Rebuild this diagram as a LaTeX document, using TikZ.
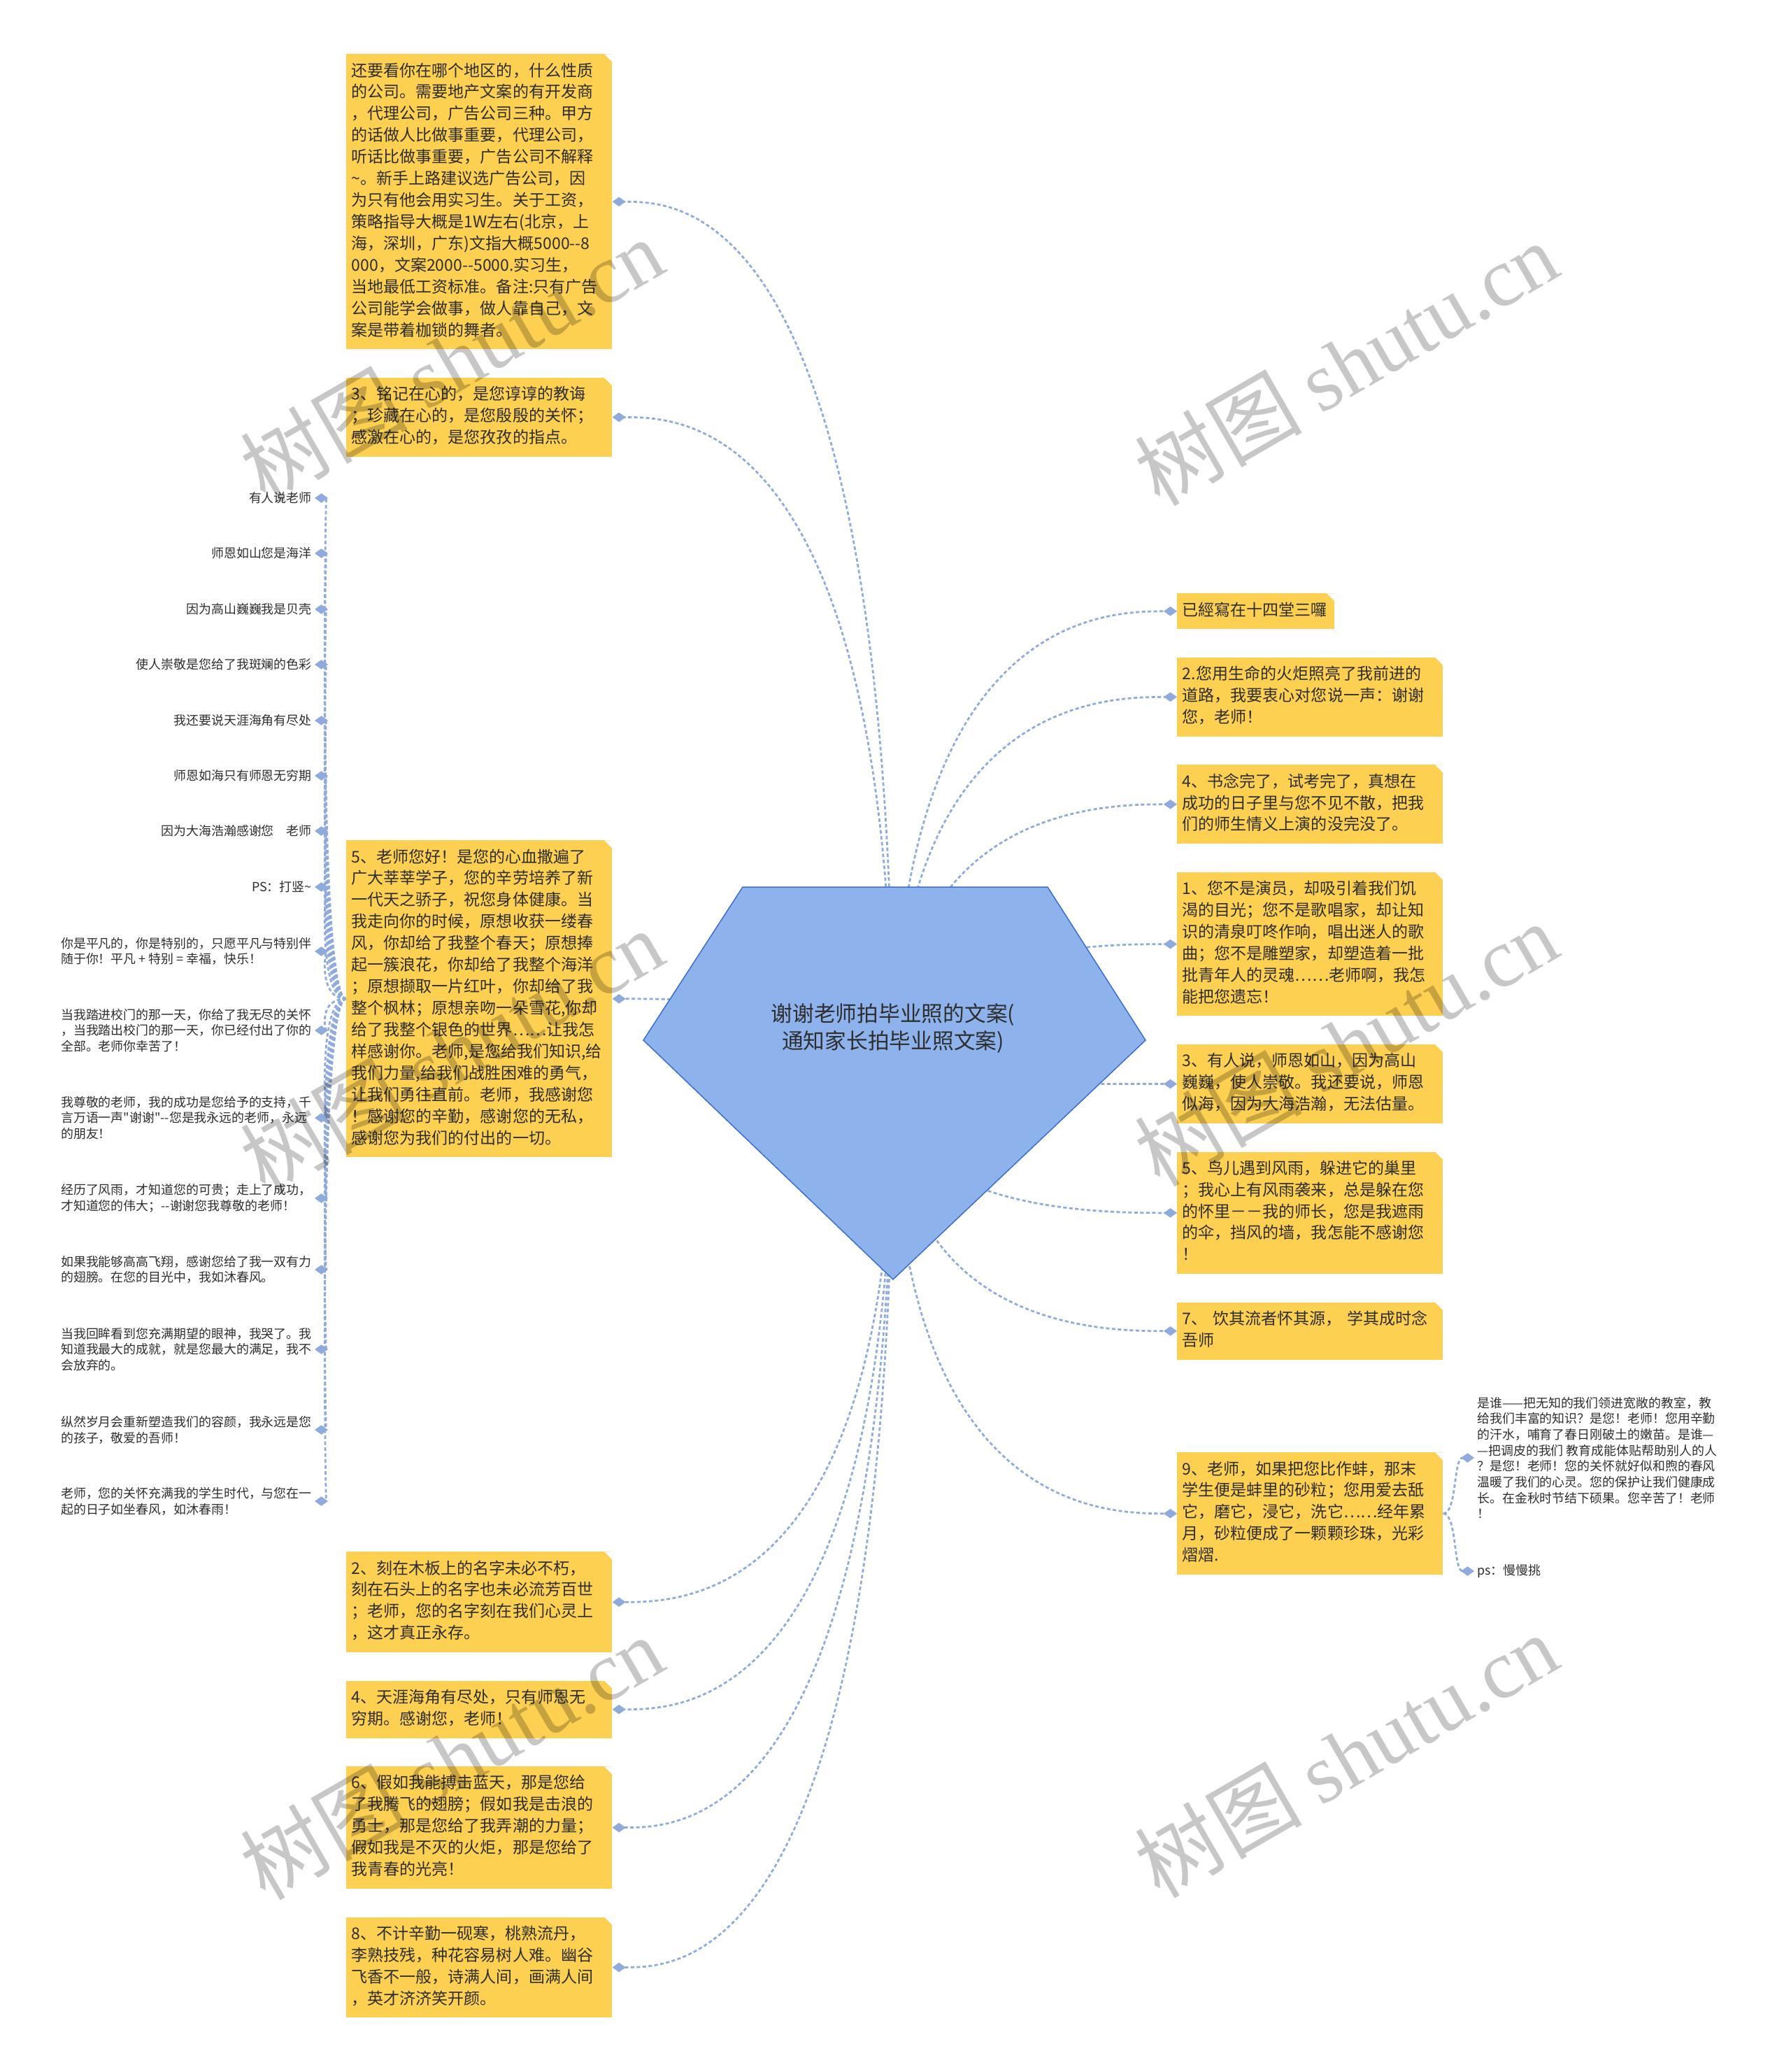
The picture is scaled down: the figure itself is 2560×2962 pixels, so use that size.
\documentclass[tikz,border=0pt]{standalone}
\usepackage{fontspec}
\usepackage{tikz}
\usetikzlibrary{arrows.meta, positioning, backgrounds}
\newfontfamily\cjk{Noto Sans CJK SC}
\newfontfamily\wmfont{Liberation Serif}
\definecolor{ShutuYellow}{HTML}{FDD052}
\definecolor{ShutuBlue}{HTML}{8EB2EB}
\definecolor{ShutuEdge}{HTML}{3B6FCF}
\definecolor{ShutuLink}{HTML}{8FAADC}
\definecolor{ShutuInk}{HTML}{2E2E2E}
\tikzset{
    % Yellow topic box with folded corner
    topic/.style={
        rectangle,
        fill=ShutuYellow,
        text=ShutuInk,
        text width=7.3cm,
        inner xsep=0.15cm,
        inner ysep=0.2cm,
        align=left,
        font=\cjk\fontsize{13.1pt}{17.6pt}\selectfont,
        execute at begin node={\noindent\strut},
        execute at end node=\strut,
        path picture={\fill[white] ([xshift=-0.22cm]path picture bounding box.north east) -- (path picture bounding box.north east) -- ([yshift=-0.22cm]path picture bounding box.north east) -- cycle;}
    },
    % Small leaf text
    leaf/.style={
        text=ShutuInk,
        align=left,
        inner xsep=0.08cm,
        inner ysep=0.05cm,
        font=\cjk\fontsize{10.2pt}{12.9pt}\selectfont
    },
    % Root pentagon
    rootshape/.style={
        fill=ShutuBlue,
        draw=ShutuEdge,
        line width=0.03cm
    },
    % Root label
    rootlabel/.style={
        text=ShutuInk,
        align=center,
        font=\cjk\fontsize{17.5pt}{22.5pt}\selectfont
    },
    % Dotted connector
    link/.style={
        draw=ShutuLink,
        line width=0.055cm,
        dash pattern=on 0.1cm off 0.07cm,
        -{Diamond[length=0.38cm,width=0.27cm]}
    },
    % Watermark
    wmark/.style={
        text=black,
        text opacity=0.22,
        rotate=30,
        font=\cjk\fontsize{68pt}{68pt}\selectfont
    }
}
\begin{document}
\begin{tikzpicture}[x=0.02cm, y=0.02cm, node distance=0.8cm]
    \useasboundingbox (0,0) rectangle (2560,-2962);

    % Root
    \draw[rootshape] (1062,-1268) -- (1498,-1268) -- (1638,-1487) -- (1277,-1829) -- (920,-1487) -- cycle;
    \coordinate (hub) at (1277,-1548);
    \node[rootlabel] (root) at (1277,-1470) {谢谢老师拍毕业照的文案(\\通知家长拍毕业照文案)};

    % Left column
    \node[topic, anchor=north west] (wenan) at (495,-77) {还要看你在哪个地区的，什么性质\\的公司。需要地产文案的有开发商\\，代理公司，广告公司三种。甲方\\的话做人比做事重要，代理公司，\\听话比做事重要，广告公司不解释\\\textasciitilde。新手上路建议选广告公司，因\\为只有他会用实习生。关于工资，\\策略指导大概是1W左右(北京，上\\海，深圳，广东)文指大概5000--8\\000，文案2000--5000.实习生，\\当地最低工资标准。备注:只有广告\\公司能学会做事，做人靠自己，文\\案是带着枷锁的舞者。};
    \node[topic, below=of wenan] (mingji) {3、铭记在心的，是您谆谆的教诲\\；珍藏在心的，是您殷殷的关怀；\\感激在心的，是您孜孜的指点。};
    \node[topic, anchor=north west] (laoshi) at (495,-1201) {5、老师您好！是您的心血撒遍了\\广大莘莘学子，您的辛劳培养了新\\一代天之骄子，祝您身体健康。当\\我走向你的时候，原想收获一缕春\\风，你却给了我整个春天；原想捧\\起一簇浪花，你却给了我整个海洋\\；原想撷取一片红叶，你却给了我\\整个枫林；原想亲吻一朵雪花,你却\\给了我整个银色的世界……让我怎\\样感谢你。老师,是您给我们知识,给\\我们力量,给我们战胜困难的勇气，\\让我们勇往直前。老师，我感谢您\\！感谢您的辛勤，感谢您的无私，\\感谢您为我们的付出的一切。};
    \node[topic, anchor=north west] (kezai) at (495,-2218) {2、刻在木板上的名字未必不朽，\\刻在石头上的名字也未必流芳百世\\；老师，您的名字刻在我们心灵上\\，这才真正永存。};
    \node[topic, below=of kezai] (tianya) {4、天涯海角有尽处，只有师恩无\\穷期。感谢您，老师！};
    \node[topic, below=of tianya] (jiaru) {6、假如我能搏击蓝天，那是您给\\了我腾飞的翅膀；假如我是击浪的\\勇士，那是您给了我弄潮的力量；\\假如我是不灭的火炬，那是您给了\\我青春的光亮！};
    \node[topic, below=of jiaru] (taoshu) {8、不计辛勤一砚寒，桃熟流丹，\\李熟技残，种花容易树人难。幽谷\\飞香不一般，诗满人间，画满人间\\，英才济济笑开颜。};

    % Leaves of box 5
    \node[leaf, anchor=east] (lf1) at (450,-712) {有人说老师};
    \node[leaf, anchor=east] (lf2) at (450,-791) {师恩如山您是海洋};
    \node[leaf, anchor=east] (lf3) at (450,-871) {因为高山巍巍我是贝壳};
    \node[leaf, anchor=east] (lf4) at (450,-950) {使人崇敬是您给了我斑斓的色彩};
    \node[leaf, anchor=east] (lf5) at (450,-1030) {我还要说天涯海角有尽处};
    \node[leaf, anchor=east] (lf6) at (450,-1109) {师恩如海只有师恩无穷期};
    \node[leaf, anchor=east] (lf7) at (450,-1188) {因为大海浩瀚感谢您　老师};
    \node[leaf, anchor=east] (lf8) at (450,-1268) {PS：打竖\textasciitilde};
    \node[leaf, anchor=east] (lf9) at (450,-1360) {你是平凡的，你是特别的，只愿平凡与特别伴\\随于你！平凡 + 特别 = 幸福，快乐！};
    \node[leaf, anchor=east] (lf10) at (450,-1473) {当我踏进校门的那一天，你给了我无尽的关怀\\，当我踏出校门的那一天，你已经付出了你的\\全部。老师你幸苦了！};
    \node[leaf, anchor=east] (lf11) at (450,-1598) {我尊敬的老师，我的成功是您给予的支持，千\\言万语一声"谢谢"--您是我永远的老师，永远\\的朋友！};
    \node[leaf, anchor=east] (lf12) at (450,-1713) {经历了风雨，才知道您的可贵；走上了成功，\\才知道您的伟大；--谢谢您我尊敬的老师！};
    \node[leaf, anchor=east] (lf13) at (450,-1815) {如果我能够高高飞翔，感谢您给了我一双有力\\的翅膀。在您的目光中，我如沐春风。};
    \node[leaf, anchor=east] (lf14) at (450,-1929) {当我回眸看到您充满期望的眼神，我哭了。我\\知道我最大的成就，就是您最大的满足，我不\\会放弃的。};
    \node[leaf, anchor=east] (lf15) at (450,-2044) {纵然岁月会重新塑造我们的容颜，我永远是您\\的孩子，敬爱的吾师！};
    \node[leaf, anchor=east] (lf16) at (450,-2146) {老师，您的关怀充满我的学生时代，与您在一\\起的日子如坐春风，如沐春雨！};

    % Right column
    \node[topic, text width=4.2cm, anchor=north west] (yijing) at (1683,-848) {已經寫在十四堂三囉};
    \node[topic, below=of yijing.south west, anchor=north west] (huoju) {2.您用生命的火炬照亮了我前进的\\道路，我要衷心对您说一声：谢谢\\您，老师！};
    \node[topic, below=of huoju] (shunian) {4、书念完了，试考完了，真想在\\成功的日子里与您不见不散，把我\\们的师生情义上演的没完没了。};
    \node[topic, below=of shunian] (yanyuan) {1、您不是演员，却吸引着我们饥\\渴的目光；您不是歌唱家，却让知\\识的清泉叮咚作响，唱出迷人的歌\\曲；您不是雕塑家，却塑造着一批\\批青年人的灵魂……老师啊，我怎\\能把您遗忘！};
    \node[topic, below=of yanyuan] (shien) {3、有人说，师恩如山，因为高山\\巍巍，使人崇敬。我还要说，师恩\\似海，因为大海浩瀚，无法估量。};
    \node[topic, below=of shien] (niaoer) {5、鸟儿遇到风雨，躲进它的巢里\\；我心上有风雨袭来，总是躲在您\\的怀里－－我的师长，您是我遮雨\\的伞，挡风的墙，我怎能不感谢您\\！};
    \node[topic, below=of niaoer] (yinqi) {7、 饮其流者怀其源， 学其成时念\\吾师};
    \node[topic, anchor=north west] (bang) at (1683,-2076) {9、老师，如果把您比作蚌，那末\\学生便是蚌里的砂粒；您用爱去舐\\它，磨它，浸它，洗它……经年累\\月，砂粒便成了一颗颗珍珠，光彩\\熠熠.};

    % Leaves of box 9
    \node[leaf, anchor=west] (bangA) at (2108,-2084) {是谁——把无知的我们领进宽敞的教室，教\\给我们丰富的知识？是您！老师！您用辛勤\\的汗水，哺育了春日刚破土的嫩苗。是谁—\\—把调皮的我们 教育成能体贴帮助别人的人\\？是您！老师！您的关怀就好似和煦的春风\\温暖了我们的心灵。您的保护让我们健康成\\长。在金秋时节结下硕果。您辛苦了！老师\\！};
    \node[leaf, anchor=west] (bangB) at (2108,-2246) {ps：慢慢挑};

    % Connectors
    \begin{scope}[on background layer]
        \fill[white] (0,0) rectangle (2560,-2962);
        \draw[link] (hub) .. controls (hub |- wenan.east) and ([xshift=2cm]wenan.east) .. (wenan.east);
        \draw[link] (hub) .. controls (hub |- mingji.east) and ([xshift=2cm]mingji.east) .. (mingji.east);
        \draw[link] (hub) .. controls (hub |- laoshi.east) and ([xshift=2cm]laoshi.east) .. (laoshi.east);
        \draw[link] (hub) .. controls (hub |- kezai.east) and ([xshift=2cm]kezai.east) .. (kezai.east);
        \draw[link] (hub) .. controls (hub |- tianya.east) and ([xshift=2cm]tianya.east) .. (tianya.east);
        \draw[link] (hub) .. controls (hub |- jiaru.east) and ([xshift=2cm]jiaru.east) .. (jiaru.east);
        \draw[link] (hub) .. controls (hub |- taoshu.east) and ([xshift=2cm]taoshu.east) .. (taoshu.east);
        \draw[link] (hub) .. controls (hub |- yijing.west) and ([xshift=-2cm]yijing.west) .. (yijing.west);
        \draw[link] (hub) .. controls (hub |- huoju.west) and ([xshift=-2cm]huoju.west) .. (huoju.west);
        \draw[link] (hub) .. controls (hub |- shunian.west) and ([xshift=-2cm]shunian.west) .. (shunian.west);
        \draw[link] (hub) .. controls (hub |- yanyuan.west) and ([xshift=-2cm]yanyuan.west) .. (yanyuan.west);
        \draw[link] (hub) .. controls (hub |- shien.west) and ([xshift=-2cm]shien.west) .. (shien.west);
        \draw[link] (hub) .. controls (hub |- niaoer.west) and ([xshift=-2cm]niaoer.west) .. (niaoer.west);
        \draw[link] (hub) .. controls (hub |- yinqi.west) and ([xshift=-2cm]yinqi.west) .. (yinqi.west);
        \draw[link] (hub) .. controls (hub |- bang.west) and ([xshift=-2cm]bang.west) .. (bang.west);
        % box 5 to its leaves
        \draw[link] (laoshi.west) .. controls ([xshift=-0.8cm]laoshi.west) and ([xshift=0.3cm]lf1.east) .. (lf1.east);
        \draw[link] (laoshi.west) .. controls ([xshift=-0.8cm]laoshi.west) and ([xshift=0.3cm]lf2.east) .. (lf2.east);
        \draw[link] (laoshi.west) .. controls ([xshift=-0.8cm]laoshi.west) and ([xshift=0.3cm]lf3.east) .. (lf3.east);
        \draw[link] (laoshi.west) .. controls ([xshift=-0.8cm]laoshi.west) and ([xshift=0.3cm]lf4.east) .. (lf4.east);
        \draw[link] (laoshi.west) .. controls ([xshift=-0.8cm]laoshi.west) and ([xshift=0.3cm]lf5.east) .. (lf5.east);
        \draw[link] (laoshi.west) .. controls ([xshift=-0.8cm]laoshi.west) and ([xshift=0.3cm]lf6.east) .. (lf6.east);
        \draw[link] (laoshi.west) .. controls ([xshift=-0.8cm]laoshi.west) and ([xshift=0.3cm]lf7.east) .. (lf7.east);
        \draw[link] (laoshi.west) .. controls ([xshift=-0.8cm]laoshi.west) and ([xshift=0.3cm]lf8.east) .. (lf8.east);
        \draw[link] (laoshi.west) .. controls ([xshift=-0.8cm]laoshi.west) and ([xshift=0.3cm]lf9.east) .. (lf9.east);
        \draw[link] (laoshi.west) .. controls ([xshift=-0.8cm]laoshi.west) and ([xshift=0.3cm]lf10.east) .. (lf10.east);
        \draw[link] (laoshi.west) .. controls ([xshift=-0.8cm]laoshi.west) and ([xshift=0.3cm]lf11.east) .. (lf11.east);
        \draw[link] (laoshi.west) .. controls ([xshift=-0.8cm]laoshi.west) and ([xshift=0.3cm]lf12.east) .. (lf12.east);
        \draw[link] (laoshi.west) .. controls ([xshift=-0.8cm]laoshi.west) and ([xshift=0.3cm]lf13.east) .. (lf13.east);
        \draw[link] (laoshi.west) .. controls ([xshift=-0.8cm]laoshi.west) and ([xshift=0.3cm]lf14.east) .. (lf14.east);
        \draw[link] (laoshi.west) .. controls ([xshift=-0.8cm]laoshi.west) and ([xshift=0.3cm]lf15.east) .. (lf15.east);
        \draw[link] (laoshi.west) .. controls ([xshift=-0.8cm]laoshi.west) and ([xshift=0.3cm]lf16.east) .. (lf16.east);
        % box 9 to its leaves
        \draw[link] (bang.east) .. controls ([xshift=0.4cm]bang.east) and ([xshift=-0.6cm]bangA.west) .. (bangA.west);
        \draw[link] (bang.east) .. controls ([xshift=0.4cm]bang.east) and ([xshift=-0.6cm]bangB.west) .. (bangB.west);
    \end{scope}

    % Watermarks
    \node[wmark] (wm1) at (646,-514) {树图 {\wmfont shutu.cn}};
    \node[wmark] (wm2) at (1925,-519) {树图 {\wmfont shutu.cn}};
    \node[wmark] (wm3) at (646,-1502) {树图 {\wmfont shutu.cn}};
    \node[wmark] (wm4) at (1925,-1492) {树图 {\wmfont shutu.cn}};
    \node[wmark] (wm5) at (646,-2512) {树图 {\wmfont shutu.cn}};
    \node[wmark] (wm6) at (1925,-2509) {树图 {\wmfont shutu.cn}};
\end{tikzpicture}
\end{document}
